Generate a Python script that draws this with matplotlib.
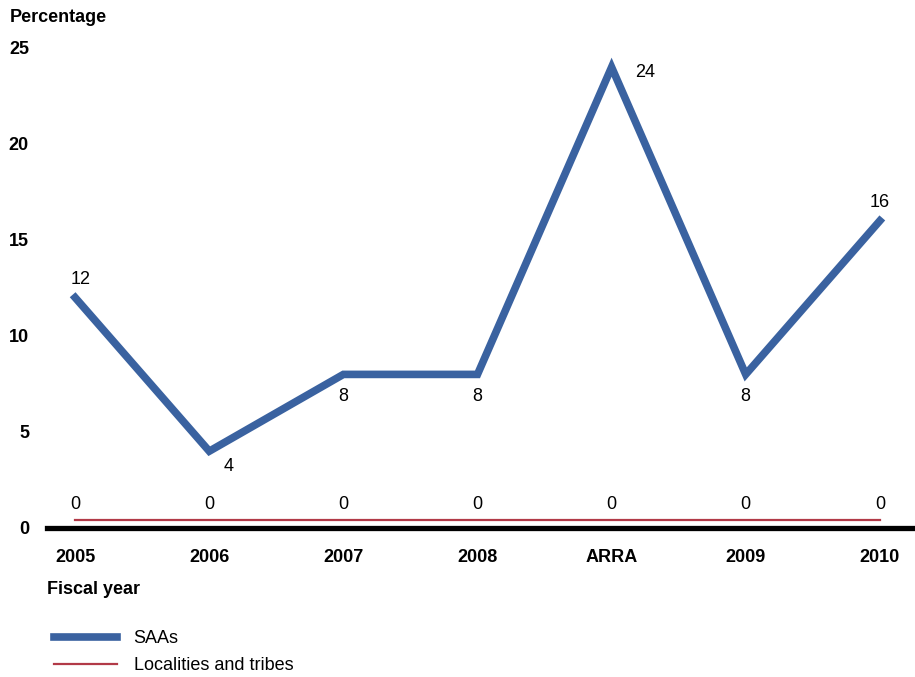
import matplotlib.pyplot as plt
import matplotlib.transforms as mtransforms

years = ['2005', '2006', '2007', '2008', 'ARRA', '2009', '2010']
saas = [12, 4, 8, 8, 24, 8, 16]
localities = [0, 0, 0, 0, 0, 0, 0]

blue = '#3a62a0'
red = '#b23a48'

plt.rcParams['font.family'] = ['Liberation Sans', 'DejaVu Sans']
fs = 13

fig = plt.figure(figsize=(9.15, 6.77), dpi=100)
ax = fig.add_axes([47 / 915, 1 - 528 / 677, 865 / 915, 480 / 677])

x = list(range(len(years)))

# red line sits a few pixels above the thick axis line
up = mtransforms.offset_copy(ax.transData, fig=fig, x=0, y=8, units='dots')
ax.plot(x, localities, color=red, lw=1.6, transform=up, label='Localities and tribes', zorder=2)
ax.plot(x, saas, color=blue, lw=5.5, solid_joinstyle='miter', label='SAAs', zorder=3)

# value labels for SAAs
offs = [(4, 13), (14, -11), (0, -16), (0, -16), (24, -4), (0, -16), (0, 13)]
for i, v in enumerate(saas):
    ax.annotate(str(v), (i, v), xytext=offs[i], textcoords='offset points',
                ha='center', va='center', fontsize=fs)
for i, v in enumerate(localities):
    ax.annotate(str(v), (i, v), xytext=(0, 17), textcoords='offset points',
                ha='center', va='center', fontsize=fs)

ax.set_xlim(-0.21, 6.24)
ax.set_ylim(0, 25)
ax.set_yticks([0, 5, 10, 15, 20, 25])
ax.set_xticks(x)
ax.set_xticklabels(years, fontweight='bold', fontsize=fs)
for t in ax.get_yticklabels():
    t.set_fontweight('bold')
    t.set_fontsize(fs)
ax.tick_params(axis='both', length=0)
ax.tick_params(axis='y', pad=13)
ax.tick_params(axis='x', pad=15)

for s in ['top', 'right', 'left']:
    ax.spines[s].set_visible(False)
ax.spines['bottom'].set_linewidth(3.8)
ax.spines['bottom'].set_color('black')

fig.text(10 / 915, 1 - 18 / 677, 'Percentage', fontweight='bold', fontsize=fs, va='center')
fig.text(47 / 915, 1 - 590 / 677, 'Fiscal year', fontweight='bold', fontsize=fs, va='center')

h, l = ax.get_legend_handles_labels()
fig.legend(h[::-1], l[::-1], loc='upper left', bbox_to_anchor=(38 / 915, 1 - 614 / 677),
           frameon=False, fontsize=fs, handlelength=3.5, handletextpad=0.9, labelspacing=0.55)

fig.savefig('out.png', dpi=100)
